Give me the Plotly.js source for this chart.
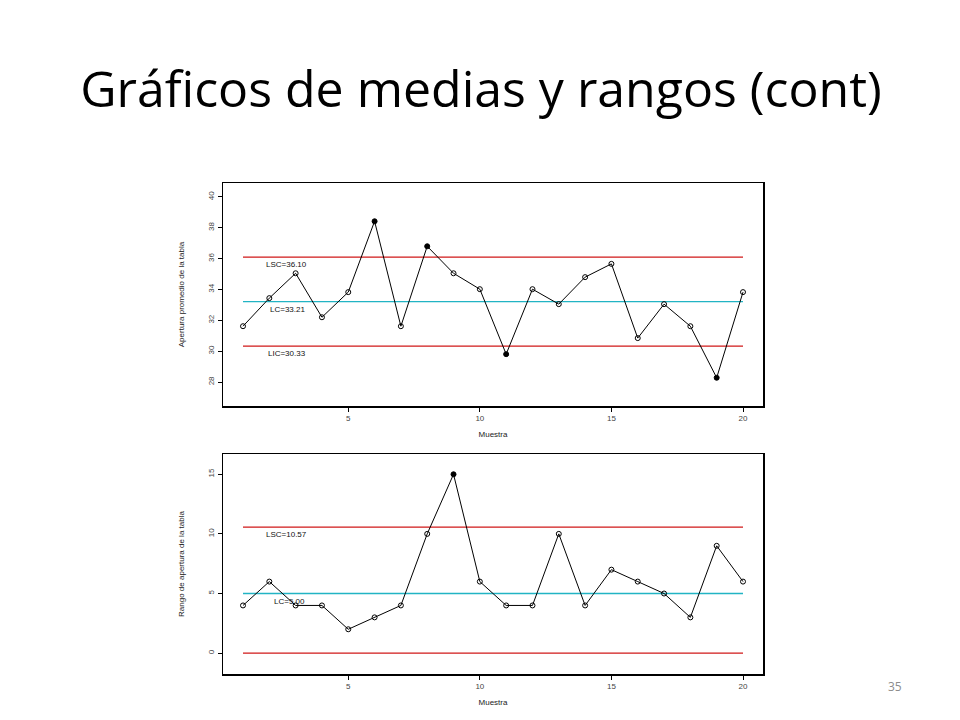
<!DOCTYPE html>
<html>
<head>
<meta charset="utf-8">
<script src="https://cdn.plot.ly/plotly-3.0.1.min.js"></script>
<style>html,body{margin:0;padding:0;background:#fff;}#chart{width:960px;height:720px;}</style>
</head>
<body>
<div id="chart"></div>
<script>
// ---- data ----
var muestra = [1,2,3,4,5,6,7,8,9,10,11,12,13,14,15,16,17,18,19,20];
var medias = [31.62,33.44,35.05,32.2,33.83,38.42,31.62,36.8,35.05,34.02,29.81,34.02,33.05,34.8,35.66,30.85,33.05,31.62,28.28,33.83];
var rangos = [4,6,4,4,2,3,4,10,15,6,4,4,10,4,7,6,5,3,9,6];
var limMedias = {LSC: 36.10, LC: 33.21, LIC: 30.33};
var limRangos = {LSC: 10.57, LC: 5.00, LIC: 0};
var xTicks = [5,10,15,20];
var yTicksMedias = [28,30,32,34,36,38,40];
var yTicksRangos = [0,5,10,15];
var titulo = "Gráficos de medias y rangos (cont)";
var yTituloMedias = "Apertura promedio de la tabla";
var yTituloRangos = "Rango de apertura de la tabla";
var xTitulo = "Muestra";
var pagina = "35";

// ---- helpers ----
var RED = "#d01818", TEAL = "#22b4c4";
var smallFont = {family: "Liberation Sans Narrow, Liberation Sans, Arial", size: 8, color: "#444"};
var xFirst = muestra[0], xLast = muestra[muestra.length-1];

function limitTrace(val, color, xa, ya) {
  return {x: [xFirst, xLast], y: [val, val], mode: "lines", xaxis: xa, yaxis: ya,
          line: {color: color, width: 1.3}, hoverinfo: "skip", showlegend: false};
}
function outOfLimits(vals, lim) {
  return vals.map(function(v){ return (v > lim.LSC || v < lim.LIC); });
}
function seriesTraces(vals, lim, xa, ya) {
  var out = outOfLimits(vals, lim);
  return {x: muestra, y: vals, mode: "lines+markers", xaxis: xa, yaxis: ya, showlegend: false,
          line: {color: "#000", width: 1},
          marker: {symbol: out.map(function(o){ return o ? "circle" : "circle-open"; }),
                   size: 5, color: "#000", line: {color: "#000", width: 1}}};
}

var traces = [
  limitTrace(limMedias.LSC, RED, "x", "y"),
  limitTrace(limMedias.LC, TEAL, "x", "y"),
  limitTrace(limMedias.LIC, RED, "x", "y"),
  seriesTraces(medias, limMedias, "x", "y"),
  limitTrace(limRangos.LSC, RED, "x2", "y2"),
  limitTrace(limRangos.LC, TEAL, "x2", "y2"),
  limitTrace(limRangos.LIC, RED, "x2", "y2"),
  seriesTraces(rangos, limRangos, "x2", "y2")
];

function xAxis(domain, anchor) {
  return {domain: domain, anchor: anchor, range: [0.24, 20.76], tickvals: xTicks,
          showgrid: false, zeroline: false, showline: true, mirror: true,
          linecolor: "#000", linewidth: 1.5, ticks: "outside", ticklen: 4, tickcolor: "#000",
          tickfont: smallFont,
          title: {text: xTitulo, font: {family: smallFont.family, size: 8, color: "#222"}, standoff: 9}};
}
function yAxis(domain, anchor, range, tv, title) {
  return {domain: domain, anchor: anchor, range: range, tickvals: tv, tickangle: -90,
          showgrid: false, zeroline: false, showline: true, mirror: true,
          linecolor: "#000", linewidth: 1.5, ticks: "outside", ticklen: 4, tickcolor: "#000",
          tickfont: smallFont,
          title: {text: title, font: {family: smallFont.family, size: 8, color: "#222"}, standoff: 21}};
}

function limLabel(txt, xv, yv, xa, ya) {
  return {text: txt, x: xv, y: yv, xref: xa, yref: ya, xanchor: "left", yanchor: "top",
          showarrow: false, font: {family: smallFont.family, size: 8, color: "#111"}, yshift: -1};
}

var annotations = [
  limLabel("LSC=" + limMedias.LSC.toFixed(2), 1.8, limMedias.LSC, "x", "y"),
  limLabel("LC=" + limMedias.LC.toFixed(2), 1.95, limMedias.LC, "x", "y"),
  limLabel("LIC=" + limMedias.LIC.toFixed(2), 1.88, limMedias.LIC, "x", "y"),
  limLabel("LSC=" + limRangos.LSC.toFixed(2), 1.8, limRangos.LSC, "x2", "y2"),
  limLabel("LC=" + limRangos.LC.toFixed(2), 2.1, limRangos.LC, "x2", "y2"),
  {text: pagina, x: 895/960, y: 1-686/720, xref: "paper", yref: "paper", showarrow: false,
   xanchor: "center", yanchor: "middle", font: {family: "Open Sans, Lato, sans-serif", size: 12, color: "#8c8c8c"}}
];

var layout = {
  width: 960, height: 720, margin: {l: 0, r: 0, t: 0, b: 0},
  paper_bgcolor: "#fff", plot_bgcolor: "#fff", showlegend: false,
  title: {text: titulo, x: 481/960, xanchor: "center", y: 1-89/720, yanchor: "middle",
          font: {family: "Open Sans, Lato, sans-serif", size: 50, color: "#000"}},
  xaxis: xAxis([223/960, 763/960], "y"),
  yaxis: yAxis([1-406/720, 1-183/720], "x", [26.45, 40.9], yTicksMedias, yTituloMedias),
  xaxis2: xAxis([223/960, 763/960], "y2"),
  yaxis2: yAxis([1-674/720, 1-454/720], "x2", [-1.75, 16.7], yTicksRangos, yTituloRangos),
  annotations: annotations
};

Plotly.newPlot("chart", traces, layout, {staticPlot: true, displayModeBar: false});
</script>
</body>
</html>
